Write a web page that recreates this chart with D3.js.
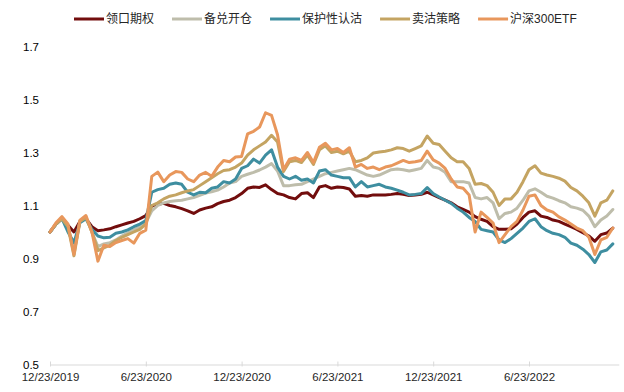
<!DOCTYPE html>
<html>
<head>
<meta charset="utf-8">
<script src="https://cdn.jsdelivr.net/npm/d3@7"></script>
<style>
  html, body { margin: 0; padding: 0; background: #fff; }
  svg { display: block; }
  text { font-family: "Liberation Sans", Arial, "Noto Sans CJK SC", sans-serif; }
</style>
</head>
<body>
<svg id="chart" width="624" height="392"></svg>
<script>
// ---- data ----
const seriesNames = ["领口期权", "备兑开仓", "保护性认沽", "卖沽策略", "沪深300ETF"];
const seriesColors = ["#720d0d", "#bebdab", "#3e8ea0", "#c4a462", "#e8975c"];

const tickLabels = ["12/23/2019", "6/23/2020", "12/23/2020", "6/23/2021", "12/23/2021", "6/23/2022"];
const tickIndex = [0, 16, 32, 48, 64, 80];
const yTicks = [0.5, 0.7, 0.9, 1.1, 1.3, 1.5, 1.7];

const collar = [
  1.0, 1.03, 1.05, 1.025, 1.0, 1.04, 1.05, 1.02, 1.005, 1.008,
  1.012, 1.02, 1.027, 1.034, 1.04, 1.05, 1.062, 1.098, 1.105, 1.108,
  1.1, 1.095, 1.088, 1.08, 1.07, 1.083, 1.09, 1.095, 1.107, 1.115,
  1.12, 1.13, 1.145, 1.165, 1.17, 1.168, 1.178, 1.16, 1.145, 1.14,
  1.13, 1.125, 1.145, 1.148, 1.13, 1.17, 1.175, 1.165, 1.17, 1.168,
  1.162, 1.135, 1.138, 1.135, 1.14, 1.14, 1.14, 1.142, 1.145, 1.142,
  1.138, 1.14, 1.142, 1.15, 1.14, 1.13, 1.12, 1.11, 1.095, 1.085,
  1.075, 1.058, 1.048, 1.04, 1.02, 1.01, 1.01, 1.012, 1.03, 1.055,
  1.075, 1.08, 1.06, 1.055, 1.045, 1.04, 1.03, 1.02, 1.01, 0.997,
  0.985, 0.965, 0.99, 0.996, 1.015
];
const coveredCall = [
  1.0, 1.03, 1.05, 1.02, 0.925, 1.04, 1.055, 1.0, 0.945, 0.955,
  0.96, 0.97, 0.985, 0.997, 1.008, 1.02, 1.035, 1.08, 1.1, 1.11,
  1.115, 1.118, 1.12, 1.125, 1.13, 1.138, 1.147, 1.152, 1.158, 1.17,
  1.185, 1.19, 1.21, 1.218, 1.225, 1.234, 1.245, 1.258, 1.23, 1.175,
  1.175, 1.178, 1.18, 1.19, 1.2, 1.21, 1.22, 1.225, 1.23, 1.235,
  1.24, 1.235, 1.225, 1.215, 1.21, 1.215, 1.225, 1.235, 1.238, 1.235,
  1.23, 1.235, 1.24, 1.27, 1.245, 1.24, 1.225, 1.19, 1.19, 1.19,
  1.185, 1.13, 1.125, 1.13, 1.11, 1.05, 1.07, 1.075, 1.09, 1.12,
  1.155, 1.163, 1.15, 1.135, 1.128, 1.118, 1.11, 1.095, 1.09, 1.082,
  1.06, 1.02, 1.045, 1.06, 1.085
];
const protectivePut = [
  1.0, 1.03, 1.05, 1.0, 0.96, 1.035, 1.05, 1.01, 0.985, 0.978,
  0.98, 0.995, 1.0, 1.008, 1.02, 1.03, 1.043, 1.15, 1.16, 1.165,
  1.18, 1.185, 1.18, 1.15, 1.14, 1.15, 1.148, 1.165, 1.17, 1.19,
  1.185, 1.2, 1.24, 1.25, 1.275, 1.26, 1.29, 1.31, 1.245, 1.21,
  1.2, 1.21, 1.195, 1.2, 1.185, 1.23, 1.235, 1.215, 1.21, 1.205,
  1.205, 1.17, 1.19, 1.17, 1.175, 1.18, 1.17, 1.165, 1.158, 1.15,
  1.14, 1.142, 1.145, 1.168, 1.145, 1.132, 1.12, 1.108, 1.09, 1.075,
  1.055, 1.04, 1.01, 1.005, 1.0, 0.97, 0.96, 0.975, 0.995, 1.015,
  1.04, 1.05, 1.02, 1.005, 0.995, 0.99, 0.98, 0.958, 0.95, 0.935,
  0.915, 0.885, 0.925, 0.932, 0.955
];
const shortPut = [
  1.0, 1.03, 1.05, 1.02, 0.91, 1.04, 1.055, 1.0, 0.93, 0.94,
  0.95, 0.968, 0.98, 0.99, 1.0, 1.01, 1.03, 1.1, 1.11, 1.125,
  1.135, 1.14, 1.148, 1.155, 1.16, 1.175, 1.19, 1.205, 1.22, 1.232,
  1.235, 1.245, 1.26, 1.29, 1.31, 1.325, 1.34, 1.365, 1.34, 1.228,
  1.265, 1.27, 1.262, 1.29, 1.255, 1.31, 1.325, 1.3, 1.305, 1.295,
  1.305, 1.265, 1.27, 1.28, 1.298, 1.302, 1.305, 1.31, 1.318, 1.315,
  1.305, 1.315, 1.325, 1.362, 1.335, 1.33, 1.305, 1.28, 1.265, 1.265,
  1.24, 1.18, 1.183, 1.175, 1.15, 1.1, 1.125, 1.125, 1.15, 1.19,
  1.235, 1.25, 1.222, 1.215, 1.21, 1.203, 1.192, 1.168, 1.155, 1.135,
  1.11, 1.06, 1.11, 1.12, 1.155
];
const csi300etf = [
  1.0, 1.035, 1.058, 1.03, 0.915, 1.045, 1.062, 1.0, 0.89, 0.95,
  0.945, 0.96, 0.968, 0.975, 0.958, 0.995, 1.007, 1.21, 1.226, 1.19,
  1.215, 1.228, 1.225, 1.2, 1.19, 1.215, 1.225, 1.21, 1.245, 1.27,
  1.265, 1.283, 1.285, 1.37, 1.38, 1.396, 1.45, 1.44, 1.367, 1.235,
  1.275, 1.28, 1.27, 1.3, 1.262, 1.32, 1.335, 1.31, 1.315, 1.3,
  1.318, 1.245, 1.255, 1.24, 1.245, 1.235, 1.245, 1.25, 1.26, 1.27,
  1.262, 1.265, 1.27, 1.305, 1.272, 1.26, 1.24, 1.2, 1.17, 1.165,
  1.14, 1.0, 1.075, 1.055, 1.034, 0.96, 0.99, 1.02, 1.04, 1.083,
  1.135, 1.14, 1.1, 1.083, 1.075, 1.057, 1.045, 1.03, 1.015, 1.005,
  0.98, 0.915, 0.97, 0.98, 1.015
];
const seriesValues = [collar, coveredCall, protectivePut, shortPut, csi300etf];

// ---- chart ----
const svg = d3.select("#chart");
const x = d3.scaleLinear().domain([0, 95]).range([50, 618.8]);
const y = d3.scaleLinear().domain([0.5, 1.7]).range([364.5, 46.5]);

// x axis
const xAxis = d3.axisBottom(x)
  .tickValues(tickIndex)
  .tickFormat((d, i) => tickLabels[i])
  .tickSize(4)
  .tickSizeOuter(0);
const gx = svg.append("g").attr("transform", "translate(0,364.5)").call(xAxis);
gx.select(".domain").attr("stroke", "#d9d9d9").attr("stroke-width", 1);
gx.selectAll(".tick line").attr("stroke", "#d9d9d9").attr("y1", -3).attr("y2", 2);
gx.selectAll(".tick text").attr("y", 8).attr("fill", "#262626")
  .style("font-size", "11.5px");

// y axis (labels only)
const yAxis = d3.axisLeft(y).tickValues(yTicks).tickFormat(d3.format(".1f")).tickSize(0);
const gy = svg.append("g").attr("transform", "translate(39,0)").call(yAxis);
gy.select(".domain").remove();
gy.selectAll(".tick text").attr("x", 0).attr("fill", "#000").style("font-size", "11.5px");

// lines
const line = d3.line().x((d, i) => x(i)).y(d => y(d)).curve(d3.curveLinear);
seriesValues.forEach((vals, k) => {
  svg.append("path")
    .datum(vals)
    .attr("fill", "none")
    .attr("stroke", seriesColors[k])
    .attr("stroke-width", 3)
    .attr("stroke-linejoin", "round")
    .attr("stroke-linecap", "round")
    .attr("d", line);
});

// legend
const legend = svg.append("g").attr("transform", "translate(74,19)");
let lx = 0;
seriesNames.forEach((name, k) => {
  const g = legend.append("g").attr("transform", `translate(${lx},0)`);
  g.append("line").attr("x1", 0).attr("x2", 30).attr("y1", 0).attr("y2", 0)
    .attr("stroke", seriesColors[k]).attr("stroke-width", 3);
  const t = g.append("text").attr("x", 32).attr("y", 0).attr("dy", "0.35em")
    .attr("fill", "#262626").style("font-size", "12px").text(name);
  lx += 32 + t.node().getComputedTextLength() + 18;
});
</script>
</body>
</html>
